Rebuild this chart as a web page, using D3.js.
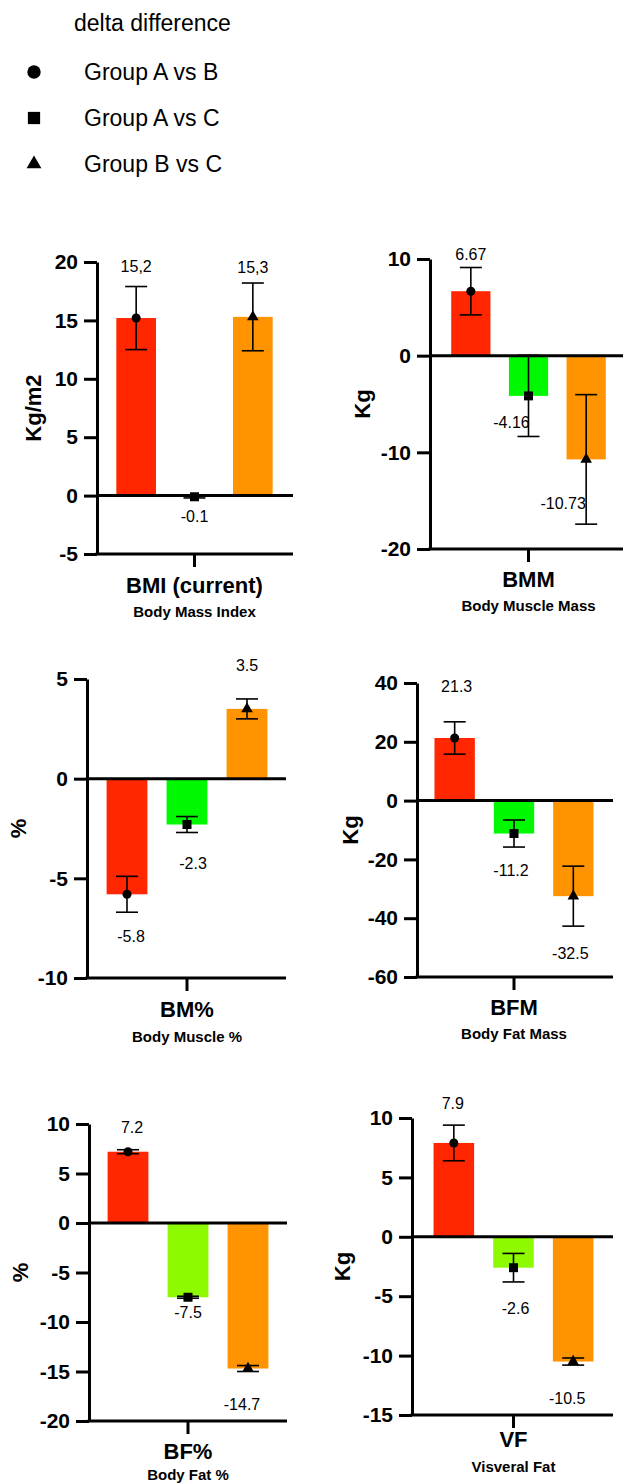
<!DOCTYPE html>
<html>
<head>
<meta charset="utf-8">
<script src="https://cdn.jsdelivr.net/npm/d3@7"></script>
<style>
  body { margin: 0; background: #fff; }
  text { font-family: "Liberation Sans", Arial, Helvetica, sans-serif; fill: #000; }
</style>
</head>
<body>
<script>
// data
var comparisons = ["Group A vs B", "Group A vs C", "Group B vs C"];
var measures = ["BMI (current)", "BMM", "BM%", "BFM", "BF%", "VF"];
var subtitles = ["Body Mass Index", "Body Muscle Mass", "Body Muscle %", "Body Fat Mass", "Body Fat %", "Visveral Fat"];
var units = ["Kg/m2", "Kg", "%", "Kg", "%", "Kg"];
var yDomains = [[-5, 20], [-20, 10], [-10, 5], [-60, 40], [-20, 10], [-15, 10]];
var yTicks = [
    [-5, 0, 5, 10, 15, 20],
    [-20, -10, 0, 10],
    [-10, -5, 0, 5],
    [-60, -40, -20, 0, 20, 40],
    [-20, -15, -10, -5, 0, 5, 10],
    [-15, -10, -5, 0, 5, 10]
];
var means = [
    [15.2, -0.1, 15.3],
    [6.67, -4.16, -10.73],
    [-5.8, -2.3, 3.5],
    [21.3, -11.2, -32.5],
    [7.2, -7.5, -14.7],
    [7.9, -2.6, -10.5]
];
var errors = [
    [2.7, 0.1, 2.9],
    [2.45, 4.2, 6.7],
    [0.9, 0.4, 0.5],
    [5.5, 4.6, 10.2],
    [0.2, 0.1, 0.3],
    [1.5, 1.2, 0.3]
];
var valueLabels = [
    ["15,2", "-0.1", "15,3"],
    ["6.67", "-4.16", "-10.73"],
    ["-5.8", "-2.3", "3.5"],
    ["21.3", "-11.2", "-32.5"],
    ["7.2", "-7.5", "-14.7"],
    ["7.9", "-2.6", "-10.5"]
];

// layout of the six panels (pixels)
var layout = [
    {ax: 97,  right: 293, top: 262,  bottom: 554,  band: [107, 282], green: "#00f900", titleY: 593,  subY: 617,  labelX: 33,  nudge: [[0, 20], [0, 18], [0, 16]]},
    {ax: 430, right: 623, top: 259,  bottom: 549,  band: [442, 615], green: "#00f900", titleY: 587,  subY: 611,  labelX: 362, nudge: [[0, 13], [-17, -14], [-23, -21]]},
    {ax: 87,  right: 286, top: 679,  bottom: 978,  band: [97, 277],  green: "#00f900", titleY: 1017, subY: 1042, labelX: 18,  nudge: [[4, 24], [6, 31], [0, 34]]},
    {ax: 417, right: 613, top: 683,  bottom: 977,  band: [425, 603], green: "#00f900", titleY: 1015, subY: 1039, labelX: 350, nudge: [[2, 35], [-3, 23], [-3, 27]]},
    {ax: 89,  right: 287, top: 1124, bottom: 1421, band: [98, 278],  green: "#8efa00", titleY: 1459, subY: 1480, labelX: 20,  nudge: [[4, 22], [0, 14], [-6, 33]]},
    {ax: 412, right: 613, top: 1118, bottom: 1415, band: [424, 603], green: "#8efa00", titleY: 1447, subY: 1472, labelX: 342, nudge: [[-1, 22], [2, 26], [-6, 33]]}
];

var red = "#ff2600", orange = "#ff9300";
var symbols = [d3.symbolCircle, d3.symbolSquare, d3.symbolTriangle];
var markerSize = [64, 81, 58];
var capW = 22;

var svg = d3.select("body").append("svg")
    .attr("width", 623)
    .attr("height", 1484);

// legend
var legend = svg.append("g");
legend.append("text")
    .attr("x", 74).attr("y", 31)
    .style("font-size", "23px")
    .text("delta difference");

legend.selectAll(".lg-sym")
    .data(comparisons)
    .enter()
    .append("path")
    .attr("class", "lg-sym")
    .attr("transform", function(d, i) { return "translate(34," + (72 + i * 46) + ")"; })
    .attr("d", function(d, i) { return d3.symbol().type(symbols[i]).size([140, 150, 95][i])(); })
    .style("fill", "#000");

legend.selectAll(".lg-txt")
    .data(comparisons)
    .enter()
    .append("text")
    .attr("class", "lg-txt")
    .attr("x", 84)
    .attr("y", function(d, i) { return 80 + i * 46; })
    .style("font-size", "23px")
    .text(function(d) { return d; });

function drawPanel(p) {
    var L = layout[p];
    var g = svg.append("g");
    var colors = [red, L.green, orange];

    var y = d3.scaleLinear().domain(yDomains[p]).range([L.bottom, L.top]);
    var x = d3.scaleBand().domain(comparisons).range(L.band).paddingInner(0.32).paddingOuter(0.16);

    var rows = comparisons.map(function(c, i) {
        return {c: c, i: i, v: means[p][i], e: errors[p][i], label: valueLabels[p][i]};
    });

    // bars
    g.selectAll(".bar")
        .data(rows)
        .enter()
        .append("rect")
        .attr("x", function(d) { return x(d.c); })
        .attr("width", x.bandwidth())
        .attr("y", function(d) { return y(Math.max(0, d.v)); })
        .attr("height", function(d) { return Math.abs(y(d.v) - y(0)); })
        .style("fill", function(d) { return colors[d.i]; });

    // y axis
    var yAxis = d3.axisLeft(y)
        .tickValues(yTicks[p])
        .tickFormat(function(d) { return String(d); })
        .tickSize(13).tickSizeOuter(0).tickPadding(6);
    var ga = g.append("g")
        .attr("transform", "translate(" + L.ax + ",0)")
        .call(yAxis);
    ga.select(".domain").attr("stroke-width", 3).attr("stroke", "#000");
    ga.selectAll(".tick line").attr("stroke-width", 3).attr("stroke", "#000");
    ga.selectAll(".tick text")
        .style("font-size", "21px")
        .style("font-weight", "bold")
        .style("font-family", "'Liberation Sans', Arial, sans-serif")
        .attr("fill", "#000");

    // bottom axis and zero line
    g.append("line")
        .attr("x1", L.ax - 1.5).attr("x2", L.right)
        .attr("y1", L.bottom).attr("y2", L.bottom)
        .attr("stroke", "#000").attr("stroke-width", 3);
    g.append("line")
        .attr("x1", L.ax).attr("x2", L.right)
        .attr("y1", y(0)).attr("y2", y(0))
        .attr("stroke", "#000").attr("stroke-width", 3);
    var mid = x(comparisons[1]) + x.bandwidth() / 2;
    g.append("line")
        .attr("x1", mid).attr("x2", mid)
        .attr("y1", L.bottom).attr("y2", L.bottom + 13)
        .attr("stroke", "#000").attr("stroke-width", 3);

    // error bars
    var eb = g.selectAll(".err")
        .data(rows)
        .enter()
        .append("g")
        .attr("transform", function(d) { return "translate(" + (x(d.c) + x.bandwidth() / 2) + ",0)"; });
    eb.append("line")
        .attr("y1", function(d) { return y(d.v - d.e); })
        .attr("y2", function(d) { return y(d.v + d.e); })
        .attr("stroke", "#000").attr("stroke-width", 1.6);
    [-1, 1].forEach(function(s) {
        eb.append("line")
            .attr("x1", -capW / 2).attr("x2", capW / 2)
            .attr("y1", function(d) { return y(d.v + s * d.e); })
            .attr("y2", function(d) { return y(d.v + s * d.e); })
            .attr("stroke", "#000").attr("stroke-width", 1.6);
    });
    eb.append("path")
        .attr("transform", function(d) { return "translate(0," + y(d.v) + ")"; })
        .attr("d", function(d) { return d3.symbol().type(symbols[d.i]).size(markerSize[d.i])(); })
        .style("fill", "#000");

    // value labels
    g.selectAll(".val")
        .data(rows)
        .enter()
        .append("text")
        .attr("text-anchor", "middle")
        .attr("x", function(d) { return x(d.c) + x.bandwidth() / 2 + L.nudge[d.i][0]; })
        .attr("y", function(d) {
            var dist = L.nudge[d.i][1];
            if (d.v >= 0) return y(d.v + d.e) - dist;
            return y(d.v - d.e) + dist;
        })
        .attr("dy", "0.35em")
        .style("font-size", "16px")
        .text(function(d) { return d.label; });

    // y label
    g.append("text")
        .attr("transform", "translate(" + L.labelX + "," + ((L.top + L.bottom) / 2) + ") rotate(-90)")
        .attr("text-anchor", "middle")
        .attr("dy", "0.35em")
        .style("font-size", "22px")
        .style("font-weight", "bold")
        .text(units[p]);

    // titles
    g.append("text")
        .attr("x", mid).attr("y", L.titleY)
        .attr("text-anchor", "middle")
        .style("font-size", "22px")
        .style("font-weight", "bold")
        .text(measures[p]);
    g.append("text")
        .attr("x", mid).attr("y", L.subY)
        .attr("text-anchor", "middle")
        .style("font-size", "15px")
        .style("font-weight", "bold")
        .text(subtitles[p]);
}

measures.forEach(function(m, p) { drawPanel(p); });
</script>
</body>
</html>
